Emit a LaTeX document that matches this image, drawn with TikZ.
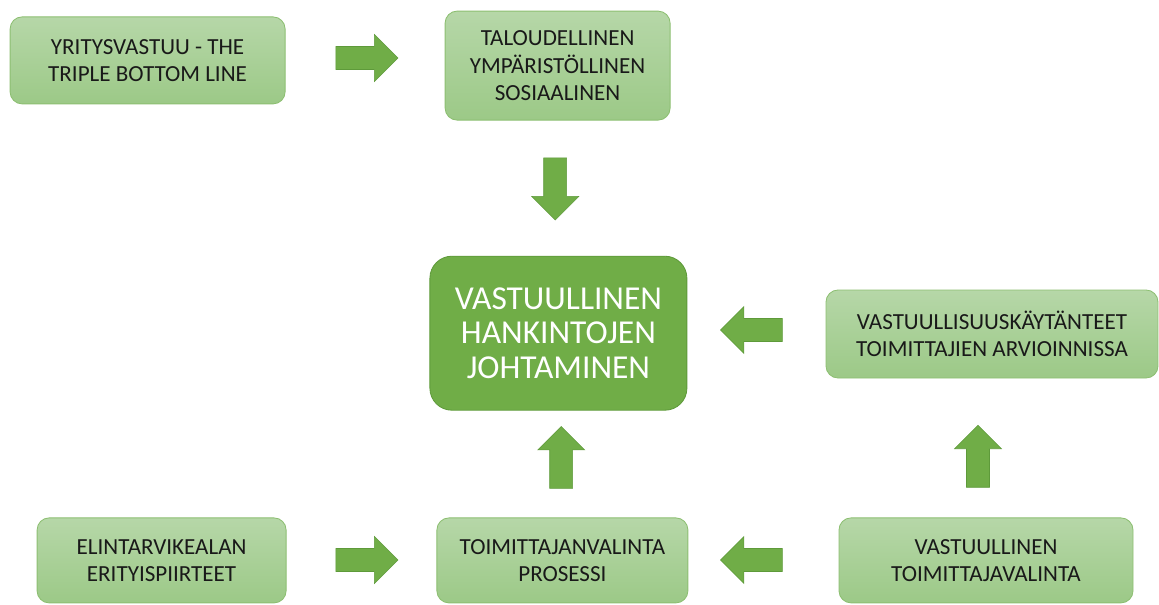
\documentclass[tikz,border=0pt]{standalone}
\usepackage{fontspec}
\setmainfont{Carlito}
\usepackage{xcolor}
\usepackage{tikz}
\usetikzlibrary{shapes.arrows, positioning, calc}
\definecolor{leafgreen}{HTML}{70AD47}
\definecolor{leafdark}{HTML}{5E9A3A}
\definecolor{boxtop}{HTML}{B6D7A8}
\definecolor{boxbottom}{HTML}{9CC987}
\definecolor{boxline}{HTML}{8DBF72}
\tikzstyle{stage} = [rectangle, rounded corners=0.3cm, draw=boxline, line width=0.6pt, top color=boxtop, bottom color=boxbottom, align=center, text=black!90, font=\fontsize{16.4}{19.3}\selectfont]
\tikzstyle{core} = [rectangle, rounded corners=0.55cm, draw=leafdark, line width=0.6pt, fill=leafgreen, align=center, text=white, font=\fontsize{23.8}{24.5}\selectfont]
\tikzstyle{blockarrow} = [single arrow, draw=leafdark, line width=0.4pt, fill=leafgreen, minimum height=1.55cm, inner xsep=0pt, inner ysep=0.28cm, single arrow head extend=0.3cm, single arrow tip angle=90]

\begin{document}
\begin{tikzpicture}
\useasboundingbox (0,0) rectangle (28.975,-15.125);
\node (tbl) [stage, minimum width=6.875cm, minimum height=2.175cm] at (3.69,-1.51) {YRITYSVASTUU - THE\\TRIPLE BOTTOM LINE};
\node (dims) [stage, minimum width=5.625cm, minimum height=2.725cm] at (13.94,-1.64) {TALOUDELLINEN\\YMPÄRISTÖLLINEN\\SOSIAALINEN};
\node (main) [core, minimum width=6.425cm, minimum height=3.85cm] at (13.96,-8.33) {VASTUULLINEN\\HANKINTOJEN\\JOHTAMINEN};
\node (eval) [stage, minimum width=8.3cm, minimum height=2.2cm] at (24.8,-8.35) {VASTUULLISUUSKÄYTÄNTEET\\TOIMITTAJIEN ARVIOINNISSA};
\node (food) [stage, minimum width=6.225cm, minimum height=2.125cm] at (4.04,-14.01) {ELINTARVIKEALAN\\ERITYISPIIRTEET};
\node (proc) [stage, minimum width=6.275cm, minimum height=2.125cm] at (14.06,-14.01) {TOIMITTAJANVALINTA\\PROSESSI};
\node (resp) [stage, minimum width=7.35cm, minimum height=2.125cm] at (24.65,-14.01) {VASTUULLINEN\\TOIMITTAJAVALINTA};

% block arrows between the boxes
\node (a1) [blockarrow] at (9.03,-1.45) {};
\node (a2) [blockarrow, rotate=270] at (13.88,-4.58) {};
\node (a3) [blockarrow, rotate=180] at (18.93,-8.25) {};
\node (a4) [blockarrow, rotate=90] at (14.03,-11.58) {};
\node (a5) [blockarrow, rotate=90] at (24.45,-11.55) {};
\node (a6) [blockarrow] at (9.03,-14.0) {};
\node (a7) [blockarrow, rotate=180] at (18.93,-14.0) {};
\end{tikzpicture}
\end{document}
